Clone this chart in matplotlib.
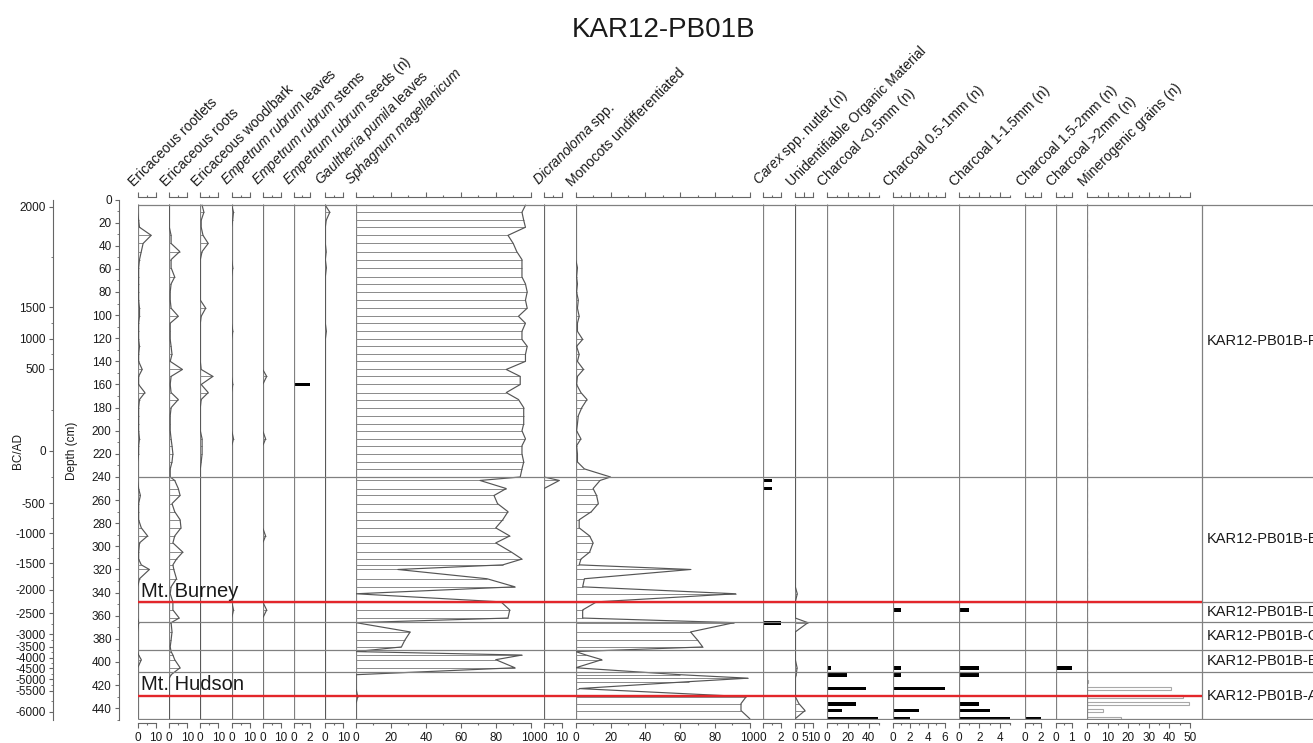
import matplotlib
matplotlib.use("Agg")
import matplotlib.pyplot as plt
from matplotlib.ticker import FixedLocator, NullFormatter
import numpy as np

plt.rcParams['font.family'] = ['Liberation Sans', 'DejaVu Sans']
plt.rcParams['mathtext.fontset'] = 'custom'
plt.rcParams['mathtext.rm'] = 'Liberation Sans'
plt.rcParams['mathtext.it'] = 'Liberation Sans:italic'

# sample depths (cm)
depth_cm = [5, 11, 18, 24, 31, 38, 45, 52, 59, 67, 73, 80, 87, 94, 101, 107, 114, 121, 127, 134,
            140, 147, 153, 160, 167, 173, 180, 187, 194, 200, 207, 213, 220, 227, 233, 240,
            243, 250, 256, 263, 270, 277, 284, 291, 297, 305, 311, 316, 320, 328, 335, 341, 348, 355,
            362, 366, 374, 381, 387, 391, 394, 398, 405, 411, 414, 417, 423, 430, 436, 442, 449]

# percentage taxa
eric_rootlets = [0, 0, 0.5, 1, 7.5, 3, 2, 1, 0.5, 0.5, 0.5, 0.5, 0.5, 1, 1, 0.5, 0.5, 0.5, 1, 0.5,
                 0.5, 2.5, 0.5, 0.5, 4, 1, 0.5, 0.5, 0.5, 0.5, 1, 0.5, 0.5, 0, 0, 0,
                 0, 0.5, 1.5, 0.5, 0.5, 0.5, 2, 5.5, 1, 0.5, 0.5, 2, 6.5, 1, 0, 0, 0, 0,
                 0, 0.5, 0, 0, 0, 0, 0.5, 2, 0, 0, 0, 0, 0, 0, 0, 0, 0]
eric_roots = [0, 0, 0, 0, 1, 1, 5.8, 1, 1, 3, 1, 0.5, 0.5, 1, 5, 0.5, 0.5, 0.5, 1, 1.5,
              0.5, 7.3, 1, 0.5, 1, 5, 1, 0.5, 0.5, 0.5, 1, 1.5, 2, 1.5, 0.5, 0.5,
              3, 5, 6, 1.5, 3, 6, 6.5, 3, 2, 7.5, 4, 2, 2.5, 4, 1, 0.5, 2, 2,
              5.5, 1, 1.5, 1, 0.5, 1, 2, 3, 6, 1, 0, 0, 0, 0, 0, 0, 0]
eric_wood = {5: 1, 11: 2, 18: 0.5, 24: 0.5, 31: 1.5, 38: 4.4, 45: 1, 94: 3, 101: 0.5, 147: 0.5,
             153: 7, 160: 0.5, 167: 4.4, 173: 0.5, 207: 1, 213: 1, 220: 1, 227: 0.5}
emp_leaves = {11: 1, 18: 0.5, 59: 0.6, 114: 0.6, 160: 0.6, 207: 1, 355: 1}
emp_stems = {153: 2.2, 207: 1.6, 291: 1.6, 355: 2.2}
gaultheria = {11: 2.5, 18: 0.5, 45: 0.5, 59: 0.6, 114: 0.6}
sphagnum = [97, 95, 96, 97, 87, 90, 92, 95, 95, 95, 97, 98, 97, 98, 93, 97, 95, 95, 98, 97,
            97, 86, 94, 94, 86, 93, 96, 96, 96, 95, 97, 95, 95, 96, 95, 94,
            71, 86, 79, 81, 87, 84, 80, 88, 80, 89, 95, 84, 24, 75, 91, 0, 83, 88,
            87, 0, 31, 28, 26, 0, 95, 80, 91, 0, 0, 0, 0, 1, 0, 0, 0]
dicranoloma = {243: 8.5}
monocots = [0, 0, 0, 0, 0, 0, 0, 0, 1, 0.5, 1, 0.5, 1.5, 1, 2, 1, 1, 4, 0.5, 2,
            1, 4.5, 1, 0.5, 3, 6.5, 3.5, 1.5, 1, 0.5, 3, 0.5, 1, 1, 5, 20,
            14, 10, 12, 13, 9, 2, 2, 8, 10, 8, 3, 2, 66, 5, 4, 92, 12, 4,
            4, 91, 66, 70, 73, 0, 6, 15, 0, 60, 99, 65, 2, 98, 95, 95, 100]
uom = {341: 1.1, 366: 7, 405: 1, 411: 0.5, 436: 2, 442: 5.4}

# counts (n)
emp_seeds = {160: 2}
carex = {243: 1, 250: 1, 366: 2}
char_05 = {405: 4, 411: 19, 417: 1.5, 423: 37.5, 436: 28.5, 442: 14.5, 449: 49.5}
char_05_1 = {355: 1, 405: 1, 411: 1, 423: 6, 442: 3, 449: 2}
char_1_15 = {355: 1, 405: 2, 411: 2, 436: 2, 442: 3, 449: 5}
char_15_2 = {449: 2}
char_2 = {405: 1}
minerogenic = {417: 0.5, 423: 41, 430: 46.5, 436: 49.5, 442: 7.5, 449: 16.5}

# zones and tephras
zone_names = ['KAR12-PB01B-F', 'KAR12-PB01B-E', 'KAR12-PB01B-D', 'KAR12-PB01B-C',
              'KAR12-PB01B-B', 'KAR12-PB01B-A']
zone_tops = [5, 240, 348, 365, 390, 409]
zone_base = 449.6
tephra_names = ['Mt. Burney', 'Mt. Hudson']
tephra_depths = [348, 429]

# age scale
age_ticks = [2000, 1500, 1000, 500, 0, -500, -1000, -1500, -2000, -2500, -3000, -3500,
             -4000, -4500, -5000, -5500, -6000]
age_depths = [6.2, 93, 120.4, 146.4, 217.2, 262.7, 288.6, 314.6, 337.7, 357.9, 376, 386.8,
              396.3, 405.5, 415, 424.9, 443]

labels = ['Ericaceous rootlets', 'Ericaceous roots', 'Ericaceous wood/bark',
          r'$\mathit{Empetrum\ rubrum}$ leaves', r'$\mathit{Empetrum\ rubrum}$ stems',
          r'$\mathit{Empetrum\ rubrum}$ seeds (n)', r'$\mathit{Gaultheria\ pumila}$ leaves',
          r'$\mathit{Sphagnum\ magellanicum}$', r'$\mathit{Dicranoloma}$ spp.',
          'Monocots undifferentiated', r'$\mathit{Carex}$ spp. nutlet (n)',
          'Unidentifiable Organic Material', 'Charcoal <0.5mm (n)', 'Charcoal 0.5-1mm (n)',
          'Charcoal 1-1.5mm (n)', 'Charcoal 1.5-2mm (n)', 'Charcoal >2mm (n)',
          'Minerogenic grains (n)']
series = [eric_rootlets, eric_roots, eric_wood, emp_leaves, emp_stems, emp_seeds, gaultheria,
          sphagnum, dicranoloma, monocots, carex, uom, char_05, char_05_1, char_1_15,
          char_15_2, char_2, minerogenic]
kinds = ['c', 'c', 'c', 'c', 'c', 'b', 'c', 'c', 'c', 'c', 'b', 'c', 'b', 'b', 'b', 'b', 'b', 'h']

# layout (pixels)
W, H = 1313, 743
Y0, Y1 = 199.5, 719.8
DMAX = 450
x0s = [137.7, 169.3, 200.3, 231.7, 262.7, 294.0, 325.3, 356.0, 544.0, 575.7, 763.3, 795.3,
       826.7, 892.7, 958.7, 1025.0, 1056.0, 1087.3]
x_end = 1201.7
ppu = [1.8, 1.8, 1.8, 1.8, 1.8, 8.0, 1.8, 1.747, 1.8, 1.74, 8.7, 1.8, 1.045, 8.72, 10.3,
       7.85, 15.7, 2.05]
smax = [10, 10, 10, 10, 10, 2, 10, 100, 10, 100, 2, 10, 50, 6, 5, 2, 1, 50]
ticks = [([0, 10], [5])] * 5 + [([0, 2], [1]), ([0, 10], [5]),
         (list(range(0, 101, 20)), list(range(10, 100, 20))), ([0, 10], [5]),
         (list(range(0, 101, 20)), list(range(10, 100, 20))), ([0, 2], [1]),
         ([0, 5, 10], []), ([0, 20, 40], [10, 30, 50]), ([0, 2, 4, 6], [1, 3, 5]),
         ([0, 2, 4], [1, 3, 5]), ([0, 2], [1]), ([0, 1], [0.5]),
         (list(range(0, 51, 10)), list(range(5, 50, 10)))]

GRID = '#808080'
CURVE = '#555555'
TXT = '#1a1a1a'

fig = plt.figure(figsize=(W / 100, H / 100), dpi=100)


def px_axes(xa, xb):
    return fig.add_axes([xa / W, 1 - Y1 / H, (xb - xa) / W, (Y1 - Y0) / H])


def on_grid(vals):
    if isinstance(vals, dict):
        return [vals.get(d, 0) for d in depth_cm]
    return vals


for i, lab in enumerate(labels):
    xa = x0s[i]
    xb = x0s[i + 1] if i + 1 < len(x0s) else x_end
    ax = px_axes(xa, xb)
    ax.set_xlim(0, (xb - xa) / ppu[i])
    ax.set_ylim(DMAX, 0)
    ax.patch.set_alpha(0)
    ax.spines['left'].set_visible(False)
    ax.spines['right'].set_visible(False)
    for s in ['top', 'bottom']:
        ax.spines[s].set_bounds(0, smax[i])
        ax.spines[s].set_position(('outward', 2))
        ax.spines[s].set_color('#666666')
        ax.spines[s].set_linewidth(0.8)
    ax.set_yticks([])
    ax.xaxis.set_major_locator(FixedLocator(ticks[i][0]))
    ax.xaxis.set_minor_locator(FixedLocator(ticks[i][1]))
    ax.xaxis.set_minor_formatter(NullFormatter())
    ax.tick_params(axis='x', which='both', top=True, bottom=True, labeltop=False,
                   labelbottom=True, direction='out', color='#666666', width=0.8,
                   labelsize=8.5, pad=3, labelcolor=TXT)
    ax.tick_params(axis='x', which='major', length=3.5)
    ax.tick_params(axis='x', which='minor', length=1.6)
    ax.vlines(0, 4, zone_base, color=GRID, lw=0.9)

    vals = on_grid(series[i])
    if kinds[i] == 'c':
        ax.hlines(depth_cm, 0, vals, color='#8a8a8a', lw=0.7)
        ax.plot(vals, depth_cm, color=CURVE, lw=0.85)
    elif kinds[i] == 'b':
        ax.barh(depth_cm, vals, height=3.3, color='black', lw=0)
    else:
        ax.barh(depth_cm, vals, height=2.6, facecolor='white', edgecolor='#a8a8a8', lw=0.8)

    fig.text((xa - 1.5) / W, 1 - 189 / H, lab, rotation=45, rotation_mode='anchor',
             ha='left', va='bottom', fontsize=10, color=TXT)

# zones, tephras
ov = px_axes(137.7, W)
ov.set_xlim(137.7, W)
ov.set_ylim(DMAX, 0)
ov.axis('off')
ov.patch.set_alpha(0)
ov.hlines(zone_tops + [zone_base], 137.7, W, color=GRID, lw=0.9)
ov.vlines(x_end, zone_tops[0], zone_base, color=GRID, lw=0.9)
ov.hlines(tephra_depths, 137.7, x_end, color='#e3262a', lw=1.7, zorder=5)
for name, d in zip(tephra_names, tephra_depths):
    ov.text(141.5, d - 4.5, name, fontsize=14.5, va='baseline', ha='left', color=TXT)
bounds = zone_tops + [zone_base]
for k, name in enumerate(zone_names):
    ov.text(1207, (bounds[k] + bounds[k + 1]) / 2, name, fontsize=10.5, va='center',
            ha='left', color=TXT, clip_on=False)

# depth axis
ad = px_axes(119.3, 121)
ad.set_ylim(DMAX, 0)
ad.set_xticks([])
ad.patch.set_alpha(0)
for s in ['top', 'right', 'bottom']:
    ad.spines[s].set_visible(False)
ad.spines['left'].set_bounds(0, DMAX)
ad.spines['left'].set_color('#666666')
ad.yaxis.set_major_locator(FixedLocator(list(range(0, 441, 20))))
ad.yaxis.set_minor_locator(FixedLocator(list(range(10, 451, 20))))
ad.tick_params(axis='y', which='both', direction='out', color='#666666', labelsize=8.5,
               pad=2.5, labelcolor=TXT)
ad.tick_params(axis='y', which='major', length=3)
ad.tick_params(axis='y', which='minor', length=1.8)
fig.text(72 / W, 1 - 451 / H, 'Depth (cm)', rotation=90, ha='center', va='center',
         fontsize=8.5, color=TXT)

# age axis
aa = px_axes(53.3, 55)
aa.set_ylim(DMAX, 0)
aa.set_xticks([])
aa.patch.set_alpha(0)
for s in ['top', 'right', 'bottom']:
    aa.spines[s].set_visible(False)
aa.spines['left'].set_bounds(0, DMAX)
aa.spines['left'].set_color('#666666')
aa.set_yticks(age_depths)
aa.set_yticklabels([str(a) for a in age_ticks])
minor_ages = [a - 250 for a in age_ticks[:-1]]
aa.yaxis.set_minor_locator(FixedLocator(np.interp(minor_ages, age_ticks[::-1], age_depths[::-1])))
aa.tick_params(axis='y', which='both', direction='out', color='#666666', labelsize=8.5,
               pad=2.5, labelcolor=TXT)
aa.tick_params(axis='y', which='major', length=3)
aa.tick_params(axis='y', which='minor', length=1.8)
fig.text(18 / W, 1 - 451 / H, 'BC/AD', rotation=90, ha='center', va='center',
         fontsize=8.5, color=TXT)

fig.text(664 / W, 1 - 30 / H, 'KAR12-PB01B', ha='center', va='center', fontsize=20, color=TXT)

fig.savefig('out.png', dpi=100)
